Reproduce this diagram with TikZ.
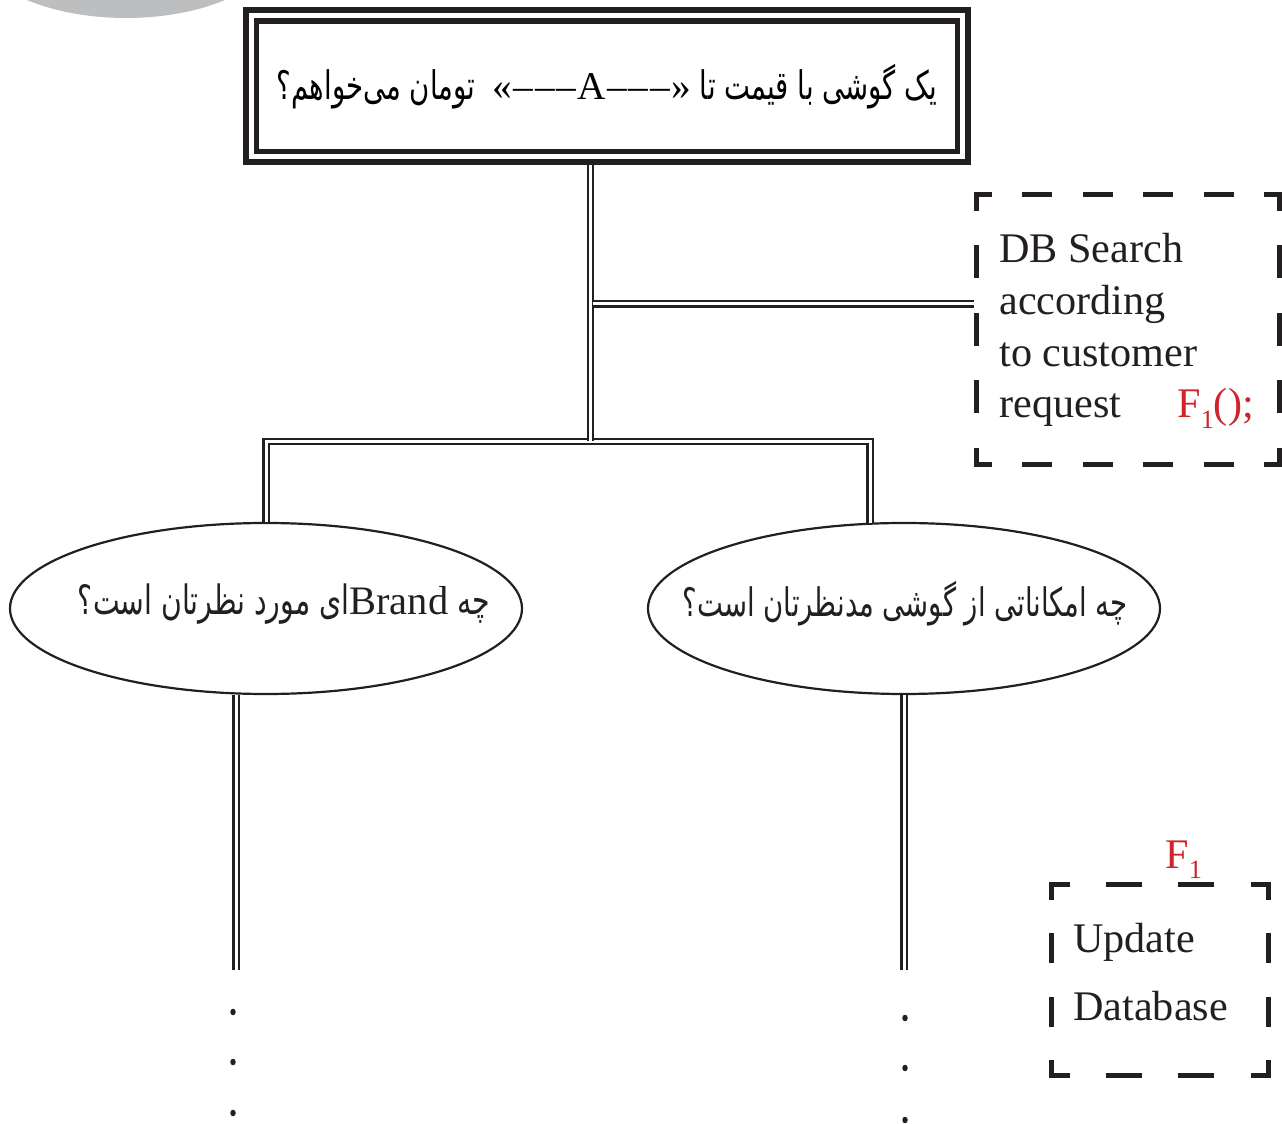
\documentclass[tikz,border=0pt]{standalone}
\usepackage{fontspec}
\usepackage{graphicx}
\setmainfont{Liberation Serif}
\newfontfamily\arabicfont[Script=Arabic, FakeStretch=0.7]{DejaVu Sans}
\newfontfamily\latinspaced[LetterSpace=4]{Liberation Serif}
\TeXXeTstate=1
\usetikzlibrary{shapes.geometric,calc}
\newdimen\pxu \pxu=0.02cm
\definecolor{ink}{HTML}{231F20}
\definecolor{fred}{HTML}{D2232A}
\definecolor{blob}{HTML}{BCBEC0}
\begin{document}
\begin{tikzpicture}[x=0.02cm,y=-0.02cm,
  dbl/.style={draw=ink, line width=2.1\pxu, double=white, double distance=3\pxu},
  ell/.style={ellipse, draw=ink, line width=2.2\pxu, minimum width=512\pxu, minimum height=171\pxu, inner sep=0pt},
  topframe/.style={rectangle, draw=ink, inner sep=0pt},
  ghost/.style={rectangle, inner sep=0pt, outer sep=0pt},
  dashside/.style n args={3}{draw=ink, line width=5\pxu, line cap=rect, dash pattern=on #1\pxu off #2\pxu, dash phase=#3\pxu},
  entext/.style={font=\fontsize{24}{29}\selectfont, text=ink, inner sep=0pt, anchor=base west},
  redtext/.style={font=\fontsize{24}{29}\selectfont, text=fred, inner sep=0pt, anchor=base west},
  ptext/.style={inner sep=0pt, text=ink},
  bdot/.style={ellipse, fill=ink, inner sep=0pt, minimum width=5.5\pxu, minimum height=6.5\pxu}
]
\useasboundingbox (0,0) rectangle (1282,1124);
\begin{scope}
  \clip (0,0) rectangle (1282,1124);
  \fill[blob] (126,-60) ellipse [x radius=155, y radius=78];
\end{scope}

% top box
\node[topframe, line width=6\pxu, minimum width=722\pxu, minimum height=152.7\pxu] (topo) at (607,86.15) {};
\node[topframe, line width=5.5\pxu, minimum width=700.7\pxu, minimum height=130.3\pxu] (top) at (607,86.35)
  {\resizebox{660\pxu}{!}{\fontsize{24}{29}\arabicfont\beginR یک گوشی با قیمت تا \beginL{\latinspaced «–––A–––»}\endL\ \ تومان می^^^^200cخواهم؟\endR}};

% ellipses
\node[ell] (L) at (266,608.5) {};
\node[ell] (R) at (904,608.5) {};
\node[ptext] (Lt) at (284,604)
  {\resizebox{412\pxu}{!}{\fontsize{24}{29}\arabicfont\beginR چه \beginL{\rmfamily Brand}\endL ای مورد نظرتان است؟\endR}};
\node[ptext] (Rt) at (905,604)
  {\resizebox{445\pxu}{!}{\fontsize{24}{29}\arabicfont\beginR چه امکاناتی از گوشی مدنظرتان است؟\endR}};

% dashed box 1
\node[ghost, minimum width=302.5\pxu, minimum height=270\pxu] (b1) at (1127.75,329.5) {};
\draw[dashside={25}{35.5}{12.5}] (b1.north west) -- (b1.north east);
\draw[dashside={25}{35.5}{12.5}] (b1.south west) -- (b1.south east);
\draw[dashside={28}{39.5}{14}] (b1.north west) -- (b1.south west);
\draw[dashside={28}{39.5}{14}] (b1.north east) -- (b1.south east);
\node[entext] (b1a) at (999,263) {DB Search};
\node[entext] (b1b) at (999,315) {according};
\node[entext] (b1c) at (999,367) {to customer};
\node[entext] (b1d) at (999,418) {request};
\node[redtext] (b1f) at (1177,418) {F\raisebox{-6pt}{\fontsize{15}{15}\selectfont 1}();};

% dashed box 2
\node[ghost, minimum width=217\pxu, minimum height=190\pxu] (b2) at (1160,980) {};
\draw[dashside={31}{41.33}{15.5}] (b2.north west) -- (b2.north east);
\draw[dashside={31}{41.33}{15.5}] (b2.south west) -- (b2.south east);
\draw[dashside={25}{38.33}{12.5}] (b2.north west) -- (b2.south west);
\draw[dashside={25}{38.33}{12.5}] (b2.north east) -- (b2.south east);
\node[entext] (b2a) at (1073,952) {Update};
\node[entext] (b2b) at (1073,1020) {Database};
\node[redtext] (b2f) at (1165,868) {F\raisebox{-6pt}{\fontsize{15}{15}\selectfont 1}};

% connectors
\coordinate (j1) at (590.5,441.5);
\coordinate (j2) at (592.6,304);
\coordinate (rt) at (870,522.8);
\draw[dbl] (L.north) -- (L.north |- j1) -- (rt |- j1) -- (rt);
\draw[dbl] (j1 |- topo.south) -- (j1);
\draw[dbl, shorten >=3\pxu] (j2) -- (j2 -| b1.west);
\coordinate (lb) at (236,970);
\coordinate (rb) at (904,970);
\draw[dbl] (lb |- L.south) -- (lb);
\draw[dbl] (R.south) -- (rb);

% dots
\node[bdot] (dl1) at (233,1012) {};
\node[bdot] (dl2) at (233,1062) {};
\node[bdot] (dl3) at (233,1113) {};
\node[bdot] (dr1) at (905,1018) {};
\node[bdot] (dr2) at (905,1068) {};
\node[bdot] (dr3) at (905,1120) {};
\end{tikzpicture}
\end{document}
